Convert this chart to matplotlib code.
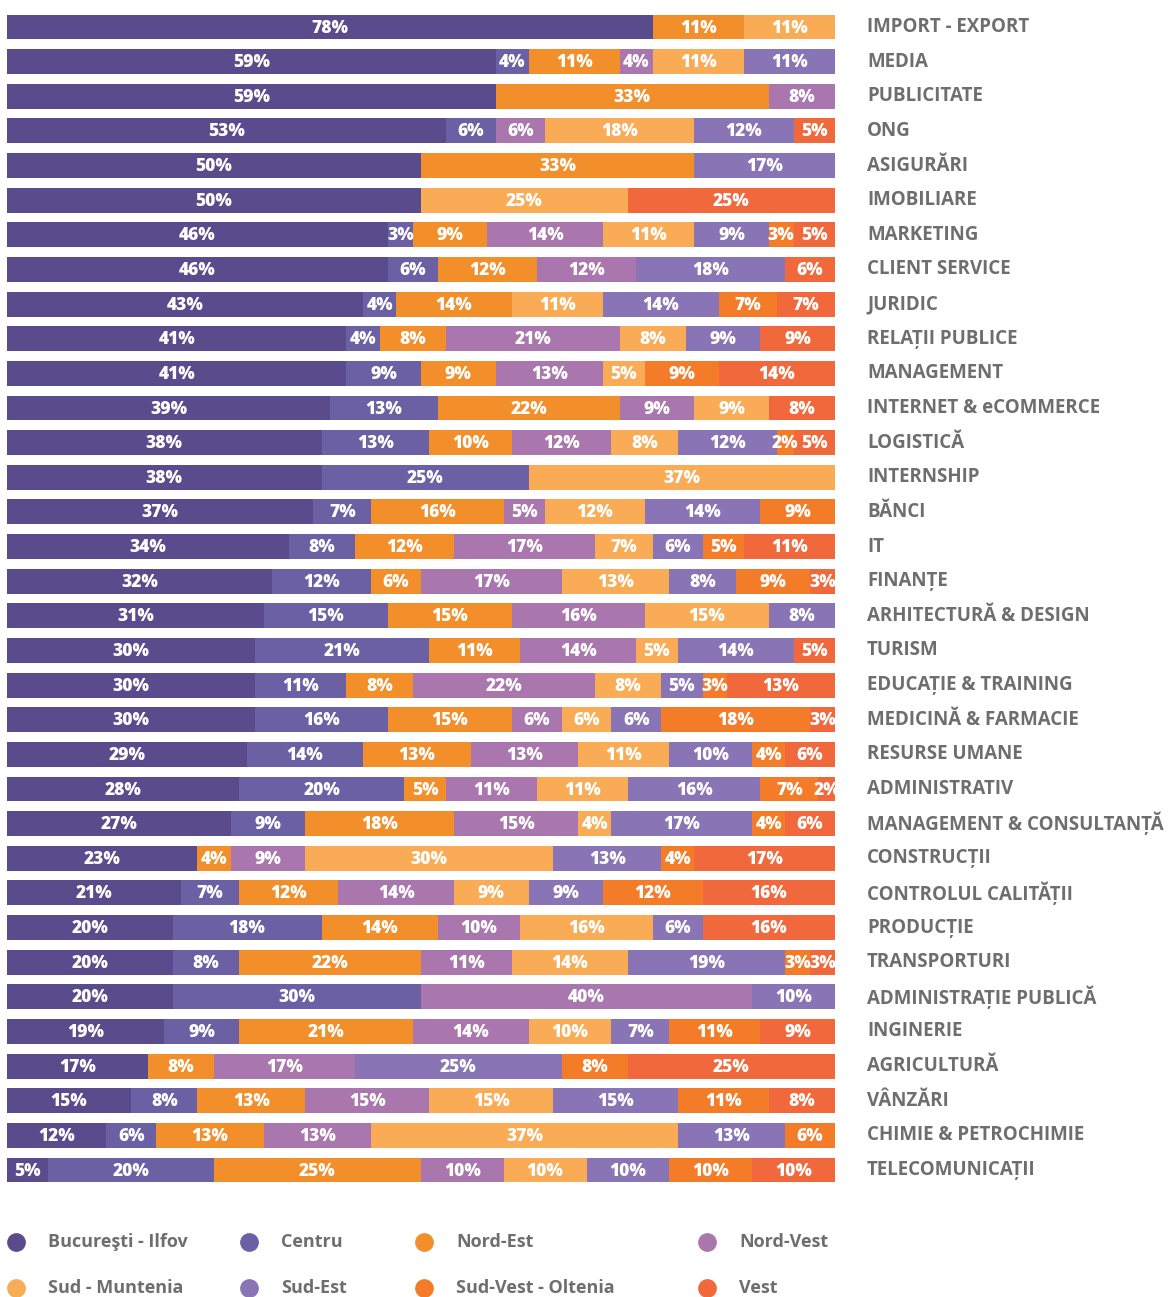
import matplotlib.pyplot as plt
from matplotlib.transforms import blended_transform_factory

categories = [
    "IMPORT - EXPORT", "MEDIA", "PUBLICITATE", "ONG", "ASIGURĂRI", "IMOBILIARE",
    "MARKETING", "CLIENT SERVICE", "JURIDIC", "RELAȚII PUBLICE", "MANAGEMENT",
    "INTERNET & eCOMMERCE", "LOGISTICĂ", "INTERNSHIP", "BĂNCI", "IT", "FINANȚE",
    "ARHITECTURĂ & DESIGN", "TURISM", "EDUCAȚIE & TRAINING", "MEDICINĂ & FARMACIE",
    "RESURSE UMANE", "ADMINISTRATIV", "MANAGEMENT & CONSULTANȚĂ", "CONSTRUCȚII",
    "CONTROLUL CALITĂȚII", "PRODUCȚIE", "TRANSPORTURI", "ADMINISTRAȚIE PUBLICĂ",
    "INGINERIE", "AGRICULTURĂ", "VÂNZĂRI", "CHIMIE & PETROCHIMIE", "TELECOMUNICAȚII",
]

regions = ["Bucureşti - Ilfov", "Centru", "Nord-Est", "Nord-Vest",
           "Sud - Muntenia", "Sud-Est", "Sud-Vest - Oltenia", "Vest"]

bucuresti_ilfov = [78, 59, 59, 53, 50, 50, 46, 46, 43, 41, 41, 39, 38, 38, 37, 34, 32,
                   31, 30, 30, 30, 29, 28, 27, 23, 21, 20, 20, 20, 19, 17, 15, 12, 5]
centru = [0, 4, 0, 6, 0, 0, 3, 6, 4, 4, 9, 13, 13, 25, 7, 8, 12,
          15, 21, 11, 16, 14, 20, 9, 0, 7, 18, 8, 30, 9, 0, 8, 6, 20]
nord_est = [11, 11, 33, 0, 33, 0, 9, 12, 14, 8, 9, 22, 10, 0, 16, 12, 6,
            15, 11, 8, 15, 13, 5, 18, 4, 12, 14, 22, 0, 21, 8, 13, 13, 25]
nord_vest = [0, 4, 8, 6, 0, 0, 14, 12, 0, 21, 13, 9, 12, 0, 5, 17, 17,
             16, 14, 22, 6, 13, 11, 15, 9, 14, 10, 11, 40, 14, 17, 15, 13, 10]
sud_muntenia = [11, 11, 0, 18, 0, 25, 11, 0, 11, 8, 5, 9, 8, 37, 12, 7, 13,
                15, 5, 8, 6, 11, 11, 4, 30, 9, 16, 14, 0, 10, 0, 15, 37, 10]
sud_est = [0, 11, 0, 12, 17, 0, 9, 18, 14, 9, 0, 0, 12, 0, 14, 6, 8,
           8, 14, 5, 6, 10, 16, 17, 13, 9, 6, 19, 10, 7, 25, 15, 13, 10]
sud_vest_oltenia = [0, 0, 0, 0, 0, 0, 3, 0, 7, 0, 9, 0, 2, 0, 9, 5, 9,
                    0, 0, 3, 18, 4, 7, 4, 4, 12, 0, 3, 0, 11, 8, 11, 6, 10]
vest = [0, 0, 0, 5, 0, 25, 5, 6, 7, 9, 14, 8, 5, 0, 0, 11, 3,
        0, 5, 13, 3, 6, 2, 6, 17, 16, 16, 3, 0, 9, 25, 8, 0, 10]

series = [bucuresti_ilfov, centru, nord_est, nord_vest,
          sud_muntenia, sud_est, sud_vest_oltenia, vest]
colors = ["#584C8D", "#6A60A3", "#F28F2A", "#A977AE",
          "#F9AC55", "#8974B5", "#F47C29", "#F0683B"]

W, H = 1169, 1297
TEXT_GREY = "#6E6E6E"
FONT = ["Open Sans", "DejaVu Sans"]

fig = plt.figure(figsize=(W / 100, H / 100), dpi=100)
fig.patch.set_facecolor("white")

# bar area in pixels: x 7..835, row centres 27..1170
row_step = (1170 - 27) / (len(categories) - 1)
top_px = 27 - row_step / 2
bot_px = 1170 + row_step / 2
ax = fig.add_axes([7 / W, 1 - bot_px / H, 828 / W, (bot_px - top_px) / H])

y = list(range(len(categories)))
left = [0.0] * len(categories)
for vals, col in zip(series, colors):
    ax.barh(y, vals, left=left, height=0.72, color=col, linewidth=0)
    for i, v in enumerate(vals):
        if v > 0:
            ax.text(left[i] + v / 2, i + 0.03, f"{v}%", ha="center", va="center",
                    color="white", fontsize=12.5, fontweight=800, family=FONT)
    left = [l + v for l, v in zip(left, vals)]

ax.set_xlim(0, 100)
ax.set_ylim(len(categories) - 0.5, -0.5)
ax.axis("off")

trans = blended_transform_factory(ax.transAxes, ax.transData)
label_x = (867 - 7) / 828
for i, name in enumerate(categories):
    ax.text(label_x, i, name, transform=trans, ha="left", va="center",
            color=TEXT_GREY, fontsize=13.5, fontweight="bold", family=FONT,
            clip_on=False)

# legend, two rows of four
leg = fig.add_axes([0, 0, 1, 1], facecolor="none")
leg.set_xlim(0, W)
leg.set_ylim(H, 0)
leg.axis("off")
col_x = [16, 249, 424, 707]
row_y = [1242, 1288]
for k, (name, col) in enumerate(zip(regions, colors)):
    cx = col_x[k % 4]
    cy = row_y[k // 4]
    leg.plot(cx, cy, "o", color=col, markersize=13.5, markeredgewidth=0)
    leg.text(cx + 32, cy, name, ha="left", va="center", color=TEXT_GREY,
             fontsize=13, fontweight="bold", family=FONT)

fig.savefig("out.png", dpi=100, facecolor="white")
